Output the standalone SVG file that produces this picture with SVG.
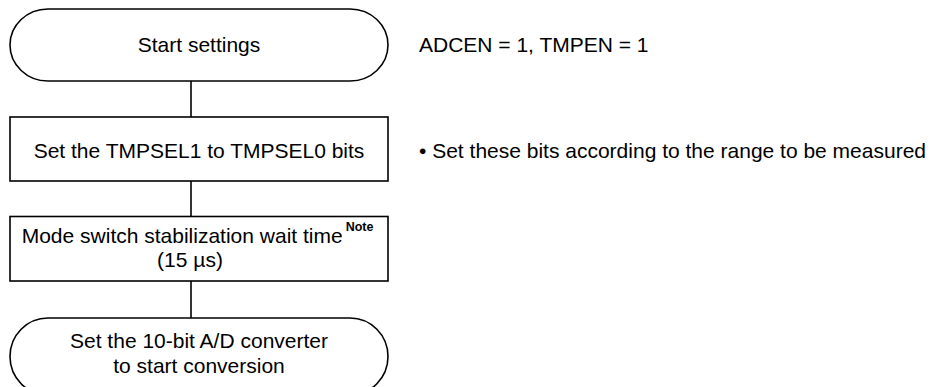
<svg xmlns="http://www.w3.org/2000/svg" width="935" height="387" viewBox="0 0 935 387">
<style>
.s{fill:#fff;stroke:#000;stroke-width:1.6}
.c{fill:none;stroke:#000;stroke-width:1.6}
.t{font-family:"Liberation Sans",Arial,sans-serif;font-size:21px;fill:#000}
.m{text-anchor:middle}
.n{font-family:"Liberation Sans",Arial,sans-serif;font-size:12.5px;font-weight:bold;fill:#000}
</style>
<rect width="935" height="387" fill="#fff"/>
<g id="connectors">
<line class="c" x1="191" y1="81" x2="191" y2="117"/>
<line class="c" x1="191" y1="181" x2="191" y2="216"/>
<line class="c" x1="191" y1="281" x2="191" y2="318"/>
</g>
<g id="start">
<path class="s" d="M48,9 H350 A38,36 0 0 1 350,81 H48 A38,36 0 0 1 48,9 Z"/>
<text class="t m" x="199" y="51.5">Start settings</text>
</g>
<g id="set-tmpsel">
<rect class="s" x="10" y="117" width="378" height="64"/>
<text class="t m" x="199" y="158">Set the TMPSEL1 to TMPSEL0 bits</text>
</g>
<g id="wait">
<rect class="s" x="10" y="216.5" width="378" height="64.5"/>
<text class="t" x="21.7" y="243">Mode switch stabilization wait time<tspan class="n" dx="3" dy="-12">Note</tspan></text>
<text class="t m" x="190" y="267">(15 µs)</text>
</g>
<g id="end">
<path class="s" d="M48,318 H350 A38,38.5 0 0 1 350,395 H48 A38,38.5 0 0 1 48,318 Z"/>
<text class="t m" x="199" y="348">Set the 10-bit A/D converter</text>
<text class="t m" x="199" y="373">to start conversion</text>
</g>
<g id="notes">
<text class="t" x="419" y="52">ADCEN = 1, TMPEN = 1</text>
<text class="t" x="419" y="158">• Set these bits according to the range to be measured</text>
</g>
</svg>
